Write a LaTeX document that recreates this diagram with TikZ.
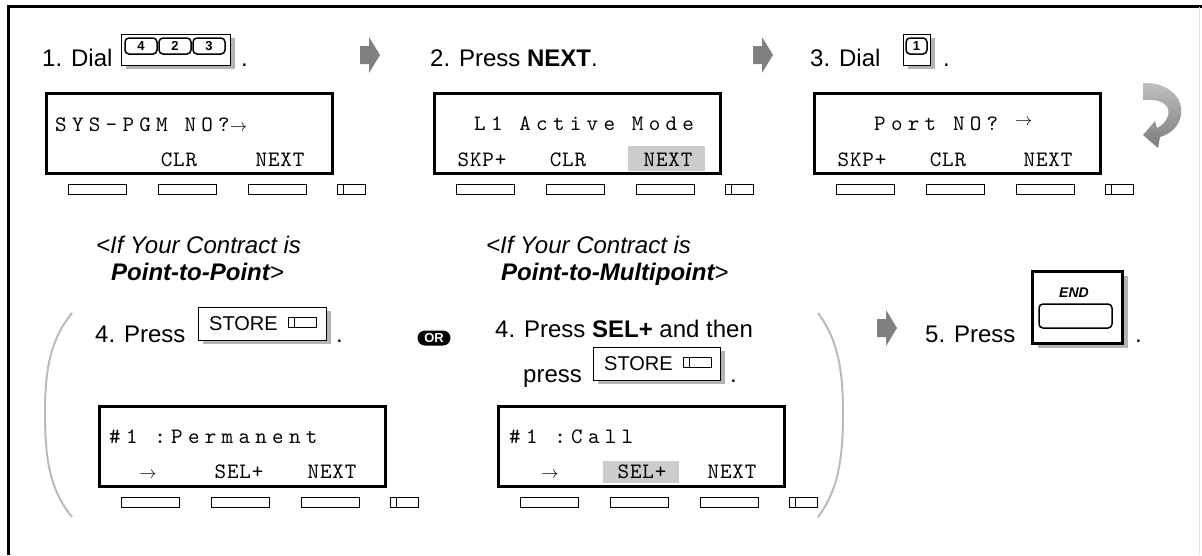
\documentclass[tikz,border=0pt]{standalone}
\usepackage{fontspec}
\setmainfont{Liberation Sans}
\newfontfamily\lcdfont[Extension=.otf, LetterSpace=4]{lmmono10-regular}
\newfontfamily\lcdwidefont[Extension=.otf, LetterSpace=24]{lmmono10-regular}
\usetikzlibrary{shadows}
\definecolor{arrowgray}{HTML}{808080}
\definecolor{shadowgray}{HTML}{B4B4B4}
\definecolor{parengray}{HTML}{BBBBBB}
\definecolor{hilite}{HTML}{CCCCCC}
\definecolor{retlight}{HTML}{C0C0C0}
\definecolor{retdark}{HTML}{7C7C7C}
\newcommand\lcdarrow{{\fontsize{19}{20}\selectfont$\rightarrow$}}
\tikzset{
  lcd/.style={draw, line width=2.5pt, minimum width=286pt, minimum height=80pt, anchor=north west, inner sep=0pt},
  softkey/.style={draw, line width=1.2pt, minimum width=58pt, minimum height=10pt, anchor=north west, inner sep=0pt},
  smallkey/.style={softkey, minimum width=28pt,
    path picture={\draw[line width=1.2pt] ([xshift=6pt]path picture bounding box.north west) -- ([xshift=6pt]path picture bounding box.south west);}},
  txt/.style={anchor=base west, inner sep=0pt, font=\fontsize{24}{28}\selectfont},
  lcdtop/.style={anchor=base west, inner sep=0pt, font=\lcdwidefont\fontsize{22}{26}\selectfont},
  lcdbot/.style={anchor=base, inner sep=0pt, font=\lcdfont\fontsize{22}{26}\selectfont},
  keyframe/.style={draw, line width=0.8pt, fill=white, anchor=north west, inner sep=0pt,
    drop shadow={shadow xshift=5pt, shadow yshift=-4pt, fill=shadowgray, opacity=1}},
  digitkey/.style={draw, line width=1.5pt, rounded corners=4pt, minimum height=16pt, inner sep=0pt,
    font=\bfseries\fontsize{13}{14}\selectfont},
  blockarrow/.pic={\fill[arrowgray] (-10,-9) -- (-1,-9) -- (-1,-18) -- (10,0) -- (-1,18) -- (-1,9) -- (-10,9) -- cycle;}
}
\begin{document}
\begin{tikzpicture}[x=1pt, y=-1pt]
\useasboundingbox (0,0) rectangle (1202,555);
% frame
\draw[line width=3pt] (8.5,555) -- (8.5,6.5) -- (1202,6.5);
\draw[gray!25, line width=1pt] (1199.5,6.5) -- (1199.5,555);

% step 1
\node[txt] (dial1) at (42,66) {1. Dial};
\node[keyframe, minimum width=109pt, minimum height=31pt] (dialbox1) at (121,34) {};
\node[digitkey, minimum width=32pt] (d4) at (141,46) {4};
\node[digitkey, minimum width=32pt] (d2) at (175,46) {2};
\node[digitkey, minimum width=32pt] (d3) at (209,46) {3};
\node[txt] (dot1) at (241,66) {.};
\node[lcd] (lcd1) at (45,92) {};
\node[lcdtop] (top1) at (55,131) {SYS-PGM NO?\lcdarrow};
\node[lcdbot] (clr1) at (179,166) {CLR};
\node[lcdbot] (next1) at (280,166) {NEXT};
\pic at (370,55) {blockarrow};

% step 2
\node[txt] (press2) at (430,66) {2. Press \textbf{NEXT}.};
\node[lcd] (lcd2) at (433,92) {};
\fill[hilite] (628,146) rectangle (705,171);
\node[lcdtop] (top2) at (474,130) {L1 Active Mode};
\node[lcdbot] (skp2) at (482,166) {SKP+};
\node[lcdbot] (clr2) at (568,166) {CLR};
\node[lcdbot] (next2) at (668,166) {NEXT};
\pic at (763,55) {blockarrow};

% step 3
\node[txt] (dial3) at (810,66) {3. Dial};
\node[keyframe, minimum width=27pt, minimum height=31pt] (dialbox3) at (903,34) {};
\node[digitkey, minimum width=21pt] (d1) at (916.5,46) {1};
\node[txt] (dot3) at (943,66) {.};
\node[lcd] (lcd3) at (813,92) {};
\node[lcdtop] (top3) at (874,130) {Port NO? \raisebox{5pt}{\lcdarrow}};
\node[lcdbot] (skp3) at (862,166) {SKP+};
\node[lcdbot] (clr3) at (948,166) {CLR};
\node[lcdbot] (next3) at (1048,166) {NEXT};
% return arrow
\shade[top color=retlight, bottom color=retdark]
  (1143,83) .. controls (1170,82) and (1186,100) .. (1180,119)
  .. controls (1177,128) and (1170,134) .. (1160,137)
  -- (1158,148) -- (1143,135) -- (1155,121) -- (1157,128)
  .. controls (1165,124) and (1170,116) .. (1168,109)
  .. controls (1165,101) and (1155,99) .. (1143,100) -- cycle;

% soft keys under every display
\foreach \lx/\ly/\nm in {45/92/a, 433/92/b, 813/92/c, 98/405/d, 497/405/e} {
  \foreach \k in {0,1,2}
    \node[softkey] (key\nm\k) at (\lx+23+90*\k,\ly+92) {};
  \node[smallkey] (key\nm3) at (\lx+292,\ly+92) {};
}

% step 4, point-to-point
\node[txt, font=\itshape\fontsize{24}{28}\selectfont] (ifp2p) at (96,253) {<If Your Contract is};
\node[txt, font=\itshape\fontsize{24}{28}\selectfont] (p2p) at (111,280) {\textbf{Point-to-Point}>};
\draw[parengray, line width=2pt] (72,313) .. controls (50,340) and (45,370) .. (45,413)
  .. controls (45,460) and (50,490) .. (72,517);
\node[txt] (press4a) at (95,342) {4. Press};
\node[keyframe, minimum width=128pt, minimum height=33pt] (store1) at (198,307) {};
\node[anchor=base west, inner sep=0pt, font=\fontsize{20}{24}\selectfont] (storetxt1)
  at ([xshift=11pt, yshift=-23pt]store1.north west) {STORE};
\node[smallkey, line width=1pt] (storeled1) at ([xshift=90pt, yshift=-10pt]store1.north west) {};
\node[txt] (dot4a) at (336,342) {.};
\node[lcd] (lcd4) at (98,405) {};
\node[lcdtop] (top4) at (109,443) {\#1 :Permanent};
\node[lcdbot] (arr4) at (148,478) {\lcdarrow};
\node[lcdbot] (sel4) at (239,478) {SEL+};
\node[lcdbot] (next4) at (332,478) {NEXT};

% OR
\node[fill=black, text=white, rounded corners=7.5pt, minimum width=33pt, minimum height=15pt, inner sep=0pt,
  font=\bfseries\fontsize{13}{14}\selectfont] (or) at (434,338) {OR};

% step 4, point-to-multipoint
\node[txt, font=\itshape\fontsize{24}{28}\selectfont] (ifp2mp) at (486,253) {<If Your Contract is};
\node[txt, font=\itshape\fontsize{24}{28}\selectfont] (p2mp) at (501,280) {\textbf{Point-to-Multipoint}>};
\node[txt] (press4b) at (495,337) {4. Press \textbf{SEL+} and then};
\node[txt] (press4c) at (523,382) {press};
\node[keyframe, minimum width=127pt, minimum height=33pt] (store2) at (593,347) {};
\node[anchor=base west, inner sep=0pt, font=\fontsize{20}{24}\selectfont] (storetxt2)
  at ([xshift=11pt, yshift=-23pt]store2.north west) {STORE};
\node[smallkey, line width=1pt] (storeled2) at ([xshift=90pt, yshift=-10pt]store2.north west) {};
\node[txt] (dot4b) at (730,382) {.};
\node[lcd] (lcd5) at (497,405) {};
\fill[hilite] (603,461) rectangle (679,483);
\node[lcdtop] (top5) at (509,443) {\#1 :Call};
\node[lcdbot] (arr5) at (550,478) {\lcdarrow};
\node[lcdbot] (sel5) at (642,478) {SEL+};
\node[lcdbot] (next5) at (732,478) {NEXT};
\draw[parengray, line width=2pt] (818,313) .. controls (838,340) and (843,370) .. (843,413)
  .. controls (843,460) and (838,490) .. (818,517);

% step 5
\pic at (887,328) {blockarrow};
\node[txt] (press5) at (925,342) {5. Press};
\node[draw, line width=2.5pt, fill=white, anchor=north west, minimum width=90pt, minimum height=72pt, inner sep=0pt,
  drop shadow={shadow xshift=6pt, shadow yshift=-5pt, fill=shadowgray, opacity=1}] (endkey) at (1031,270) {};
\node[inner sep=0pt, font=\bfseries\itshape\fontsize{14}{16}\selectfont] (endtxt) at (1074,293) {END};
\node[draw, line width=1.5pt, rounded corners=4pt, minimum width=73pt, minimum height=24pt, inner sep=0pt] (endpad) at (1075.5,316) {};
\node[txt] (dot5) at (1135,342) {.};
\end{tikzpicture}
\end{document}
